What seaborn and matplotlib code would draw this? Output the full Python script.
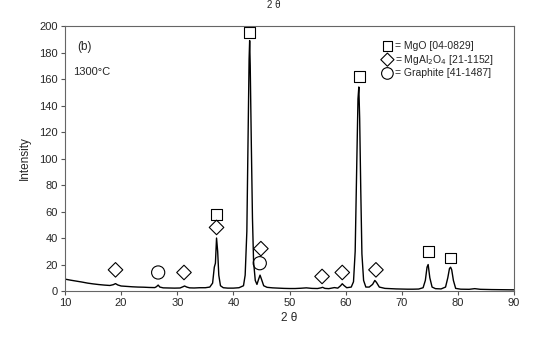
import matplotlib
matplotlib.use("Agg")
import matplotlib.pyplot as plt
import seaborn as sns
import pandas as pd

two_theta = [10.0, 11, 12, 13, 14, 15, 16, 17, 18, 18.6, 19.0, 19.4, 20, 21, 22, 23, 24, 25, 26,
             26.3, 26.6, 26.9, 27.5, 28.5, 29.5, 30.5, 31.0, 31.3, 31.7, 32.2, 33, 34, 35, 35.8,
             36.3, 36.6, 36.8, 37.0, 37.2, 37.4, 37.7, 38.2, 39, 40, 41, 41.8, 42.1, 42.4, 42.6,
             42.8, 42.9, 43.0, 43.2, 43.4, 43.6, 43.9, 44.2, 44.5, 44.75, 45.0, 45.4, 46, 47, 48,
             49, 50, 51, 52, 53, 54, 55, 55.6, 55.9, 56.3, 57, 58, 58.6, 59.1, 59.4, 59.7, 60.2,
             61, 61.4, 61.7, 62.0, 62.2, 62.35, 62.5, 62.7, 62.9, 63.2, 63.6, 64.2, 64.8, 65.2,
             65.5, 66, 67, 68, 69, 70, 71, 72, 73, 73.8, 74.2, 74.5, 74.7, 75.0, 75.4, 76, 77,
             77.8, 78.2, 78.5, 78.7, 78.9, 79.2, 79.6, 80.5, 82, 83, 84, 86, 88, 90]
intensity = [9.0, 8.2, 7.5, 6.8, 6.0, 5.4, 4.9, 4.5, 4.2, 4.8, 5.6, 4.6, 3.8, 3.5, 3.2, 3.0, 2.9, 2.7, 2.6,
             3.3, 4.5, 3.0, 2.4, 2.3, 2.2, 2.3, 3.2, 3.8, 3.0, 2.4, 2.3, 2.5, 2.5, 3.0,
             6, 18, 21, 40, 30, 12, 4, 2.5, 2.2, 2.2, 2.5, 4, 12, 45, 110,
             175, 189, 170, 110, 55, 22, 8, 5, 9, 12, 9, 4, 2.8, 2.4, 2.2,
             2.0, 1.9, 1.9, 2.1, 2.4, 2.0, 1.9, 2.4, 2.8, 2.0, 1.8, 2.6, 2.2, 4, 5.5, 4.2, 2.5,
             3, 7, 30, 100, 145, 154, 130, 75, 28, 8, 3, 3, 5, 8,
             6.5, 3, 2.0, 1.8, 1.6, 1.5, 1.4, 1.4, 1.5, 2.5, 8, 18, 20, 10, 3, 1.8, 1.6,
             3, 10, 17, 18, 16, 8, 2, 1.4, 1.3, 1.8, 1.3, 1.1, 1.0, 0.9]

mgo_x = [37.0, 42.9, 62.5, 74.7, 78.7]
mgo_y = [58, 195, 162, 30, 25]
spinel_x = [19.0, 31.2, 37.0, 44.9, 55.8, 59.4, 65.4]
spinel_y = [16, 14, 48, 32, 11, 14, 16]
graphite_x = [26.6, 44.7]
graphite_y = [14, 21]

legend_labels = ["= MgO [04-0829]", "= MgAl$_2$O$_4$ [21-1152]", "= Graphite [41-1487]"]

sns.set_style("white")
plt.rcParams['font.family'] = ['Liberation Sans', 'DejaVu Sans']

fig = plt.figure(figsize=(5.48, 3.40), dpi=100)
ax = fig.add_axes([0.1186, 0.144, 0.8194, 0.7795])

df = pd.DataFrame({"tt": two_theta, "I": intensity})
sns.lineplot(data=df, x="tt", y="I", ax=ax, color="black", linewidth=1.0,
             sort=False, estimator=None)

mk = dict(facecolor="none", edgecolor="black", linewidth=0.8)
sns.scatterplot(x=mgo_x, y=mgo_y, ax=ax, marker="s", s=60, **mk)
sns.scatterplot(x=spinel_x, y=spinel_y, ax=ax, marker="D", s=55, **mk)
sns.scatterplot(x=graphite_x, y=graphite_y, ax=ax, marker="o", s=90, **mk)

# legend-like key
lx = 0.718
for i, (m, s, lab) in enumerate(zip(["s", "D", "o"], [45, 45, 70], legend_labels)):
    yy = 0.925 - i * 0.052
    ax.scatter([lx], [yy], transform=ax.transAxes, marker=m, s=s, **mk)
    ax.text(lx + 0.018, yy, lab, transform=ax.transAxes, fontsize=7.5, va="center", ha="left")

ax.text(12.2, 184, "(b)", fontsize=8.5, va="center")
ax.text(11.5, 165, "1300°C", fontsize=8, va="center")

ax.set_xlim(10, 90)
ax.set_ylim(0, 200)
ax.set_xticks(range(10, 91, 10))
ax.set_yticks(range(0, 201, 20))
ax.tick_params(axis="both", direction="out", length=3, width=0.8, labelsize=8, color="#555555",
               bottom=True, left=True, pad=2)
for sp in ax.spines.values():
    sp.set_color("#666666")
    sp.set_linewidth(0.8)
ax.set_xlabel("2 θ", fontsize=8.5, labelpad=3)
ax.set_ylabel("Intensity", fontsize=8.5, labelpad=6)

fig.text(0.5, 0.999, "2 θ", fontsize=7, ha="center", va="top")

fig.savefig("out.png", dpi=100)
